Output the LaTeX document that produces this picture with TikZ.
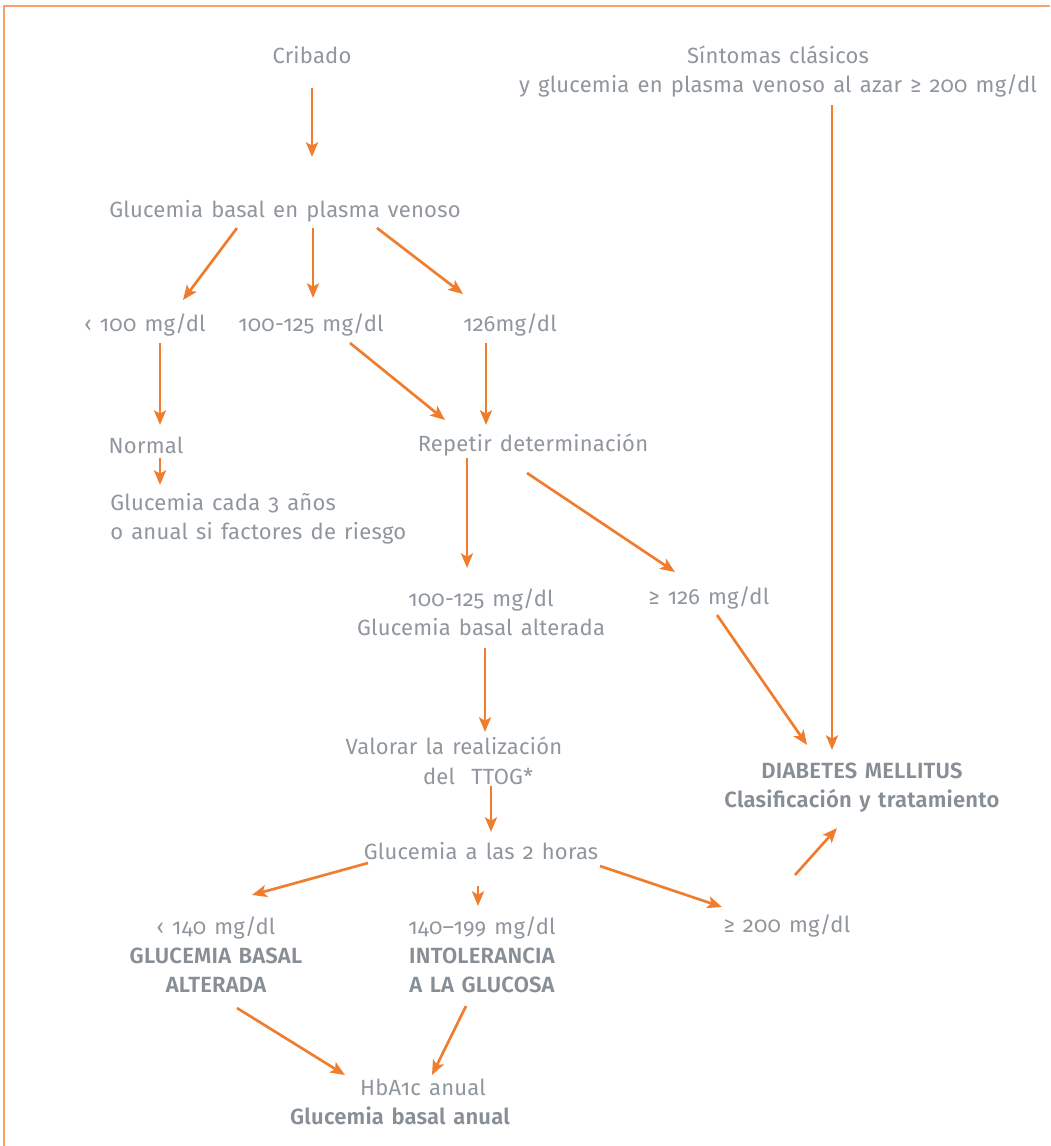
\documentclass[tikz,border=0pt]{standalone}
\usepackage{fontspec}
\setmainfont{Fira Sans}[Numbers=OldStyle, LetterSpace=1, WordSpace=1.35, BoldFont={Fira Sans SemiBold}]
\usetikzlibrary{calc,arrows.meta}
\definecolor{txtgray}{HTML}{8F969D}
\definecolor{boldgray}{HTML}{878E95}
\definecolor{arrorange}{HTML}{F07D2E}
\definecolor{frameorange}{HTML}{F6A268}
\tikzset{
  lbl/.style={inner sep=0pt, text=txtgray, font=\fontsize{16.5}{21.75}\selectfont, align=center},
  arr/.style={draw=arrorange, line width=2pt, -{Stealth[length=11pt,width=9pt,inset=2.5pt]}},
}
\begin{document}
\begin{tikzpicture}[x=0.75pt,y=-0.75pt]
\useasboundingbox (0,0) rectangle (1050,1146);
% frame edges
\draw[frameorange, line width=1.4pt] (4,1146) -- (4,6) -- (1050,6);

% text blocks
\node[lbl] (crib) at (312,55) {Cribado};
\node[lbl] (sint) at (778,72) {Síntomas clásicos\\y glucemia en plasma venoso al azar ≥ 200 mg/dl};
\node[lbl] (glu) at (285,211) {Glucemia basal en plasma venoso};
\node[lbl] (lt100) at (145,325) {‹ 100 mg/dl};
\node[lbl] (r100) at (311,325) {100-125 mg/dl};
\node[lbl] (g126) at (510,325) {126mg/dl};
\node[lbl] (normal) at (146,445) {Normal};
\node[lbl, anchor=west, align=left] (cada) at (110,519) {Glucemia cada 3 años\\o anual si factores de riesgo};
\node[lbl] (rep) at (533,445) {Repetir determinación};
\node[lbl] (gba) at (481,612) {100-125 mg/dl\\Glucemia basal alterada};
\node[lbl] (ge126) at (709,598) {≥ 126 mg/dl};
\node[lbl] (val1) at (454,746) {Valorar la realización};
\node[lbl] (val2) at (478,776) {del \ TTOG*};
\node[lbl] (g2h) at (481,851) {Glucemia a las 2 horas};
\node[lbl, text=boldgray, font=\fontsize{16.5}{21.75}\selectfont\bfseries] (dm) at (862,788) {DIABETES MELLITUS\\Clasificación y tratamiento};
\node[lbl] (lt140) at (216,955) {‹ 140 mg/dl\\{\bfseries\color{boldgray}GLUCEMIA BASAL}\\{\bfseries\color{boldgray}ALTERADA}};
\node[lbl] (intol) at (482,955) {140–199 mg/dl\\{\bfseries\color{boldgray}INTOLERANCIA}\\{\bfseries\color{boldgray}A LA GLUCOSA}};
\node[lbl] (ge200) at (787,926) {≥ 200 mg/dl};
\node[lbl] (hba1) at (423,1087) {HbA1c anual};
\node[lbl, text=boldgray, font=\fontsize{16.5}{21.75}\selectfont\bfseries] (hba2) at (400,1116) {Glucemia basal anual};

% connectors
\draw[arr] ($(crib)+(0,33)$) -- ($(glu)+(27,-54)$);
\draw[arr] ($(glu)+(-48,17)$) -- ($(lt100)+(38,-25)$);
\draw[arr] ($(glu)+(28,17)$) -- ($(r100)+(2,-27)$);
\draw[arr] ($(glu)+(92,17)$) -- ($(g126)+(-47,-31)$);
\draw[arr] ($(lt100)+(15,18)$) -- ($(normal)+(14,-20)$);
\draw[arr] ($(normal)+(14,13)$) -- ($(cada.west)+(50,-34)$);
\draw[arr] ($(r100)+(39,18)$) -- ($(rep)+(-88,-25)$);
\draw[arr] ($(g126)+(-24,18)$) -- ($(rep)+(-47,-20)$);
\draw[arr] ($(rep)+(-66,13)$) -- ($(gba)+(-14,-44)$);
\draw[arr] ($(rep)+(-6,28)$) -- ($(ge126)+(-34,-26)$);
\draw[arr] ($(gba)+(4,36)$) -- ($(val1)+(31,-14)$);
\draw[arr] ($(val2)+(13,10)$) -- ($(g2h)+(10,-19)$);
\draw[arr] ($(ge126)+(8,17)$) -- ($(dm)+(-55,-43)$);
\draw[arr] ($(sint)+(54,33)$) -- ($(dm)+(-30,-38)$);
\draw[arr] ($(g2h)+(-113,12)$) -- ($(lt140)+(36,-60)$);
\draw[arr] ($(g2h)+(-3,35)$) -- ($(intol)+(-4,-49)$);
\draw[arr] ($(g2h)+(119,15)$) -- ($(ge200)+(-65,-19)$);
\draw[arr] ($(ge200)+(8,-51)$) -- ($(dm)+(-25,40)$);
\draw[arr] ($(lt140)+(21,53)$) -- ($(hba1)+(-78,-12)$);
\draw[arr] ($(intol)+(-16,51)$) -- ($(hba1)+(9,-12)$);
\end{tikzpicture}
\end{document}
